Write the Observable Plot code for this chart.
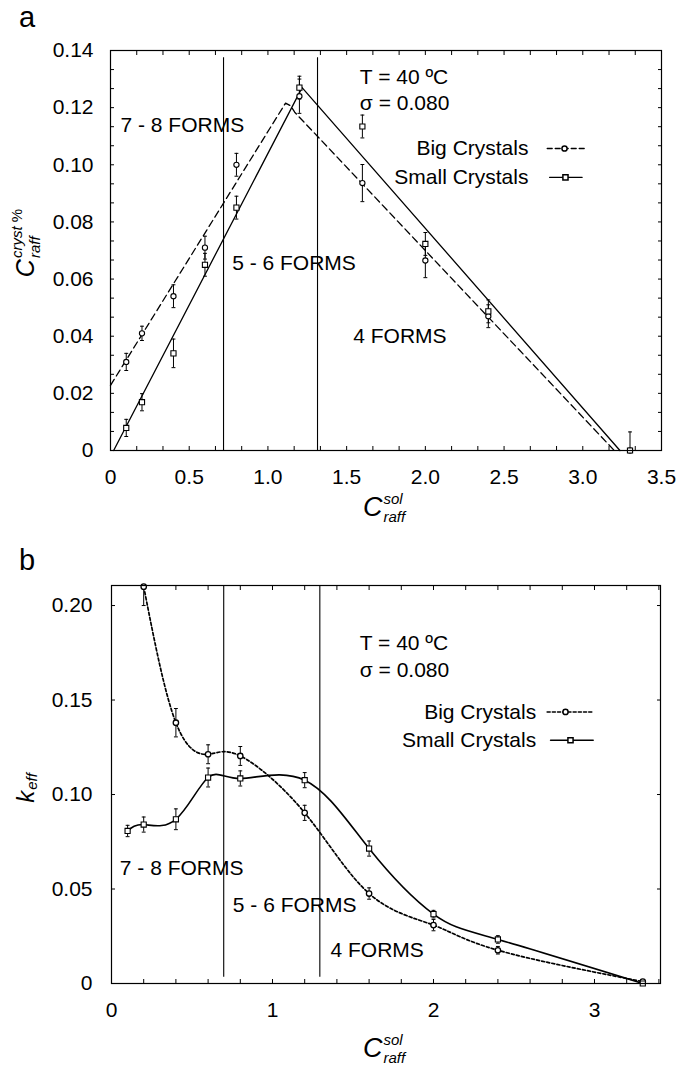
<!DOCTYPE html>
<html>
<head>
<meta charset="utf-8">
<script src="https://cdn.jsdelivr.net/npm/d3@7"></script>
<script src="https://cdn.jsdelivr.net/npm/@observablehq/plot@0.6"></script>
<style>
  html, body { margin: 0; padding: 0; background: #fff; }
  #wrap { position: relative; width: 689px; height: 1066px; overflow: hidden; font-family: 'Liberation Sans', Arial, sans-serif; color: #000; }
  .pnl { position: absolute; left: 0; }
  .tag { position: absolute; font-size: 29px; line-height: 29px; }
  .lab { position: absolute; display: flex; align-items: center; font-style: italic; white-space: nowrap; transform: translate(-50%, -50%); }
  .lab.rot { transform: translate(-50%, -50%) rotate(-90deg); }
  .lab .C { font-size: 27px; line-height: 27px; }
  .lab .ss { display: flex; flex-direction: column; font-size: 15px; line-height: 15px; margin-left: 1px; }
  .lab .ss .sub { margin-top: 3px; }
</style>
</head>
<body>
<div id="wrap">
  <div id="pa" class="pnl" style="top:0"></div>
  <div id="pb" class="pnl" style="top:530px"></div>
  <div class="tag" style="left:19px;top:3px">a</div>
  <div class="tag" style="left:19px;top:546px">b</div>
  <div class="lab" style="left:384px;top:507px"><span class="C">C</span><span class="ss"><span class="sup">sol</span><span class="sub">raff</span></span></div>
  <div class="lab rot" style="left:25px;top:243px"><span class="C" style="font-size:25px">C</span><span class="ss"><span class="sup">cryst <span style="font-style:normal">%</span></span><span class="sub">raff</span></span></div>
  <div class="lab" style="left:384px;top:1048px"><span class="C">C</span><span class="ss"><span class="sup">sol</span><span class="sub">raff</span></span></div>
  <div class="lab rot" style="left:25px;top:788px"><span class="C" style="font-size:24px">k</span><span class="ss" style="font-size:15px"><span class="sup">&nbsp;</span><span class="sub" style="margin-top:-2px">eff</span></span></div>
</div>
<script>
// ---------- Panel a data ----------
const xA = [0.1, 0.2, 0.4, 0.6, 0.8, 1.2, 1.6, 2.0, 2.4, 3.3];
const bigYA = [0.031, 0.041, 0.054, 0.071, 0.100, 0.124, 0.0936, 0.0665, 0.047, 0.0];
const bigErrA = [0.003, 0.0025, 0.004, 0.004, 0.004, 0.006, 0.0065, 0.006, 0.004, 0.0065];
const smallYA = [0.0079, 0.0169, 0.034, 0.065, 0.085, 0.127, 0.1134, 0.0723, 0.0487, 0.0];
const smallErrA = [0.003, 0.003, 0.005, 0.004, 0.004, 0.004, 0.004, 0.004, 0.004, 0.0];
const bigFitXA = [0, 1.112, 1.145, 1.17, 3.2];
const bigFitYA = [0.0228, 0.1216, 0.1206, 0.1184, 0];
const smallFitXA = [0.02, 1.217, 3.236];
const smallFitYA = [0, 0.127, 0];
const boundsA = [0.718, 1.315];
const xMajorA = [0, 0.5, 1.0, 1.5, 2.0, 2.5, 3.0, 3.5];
const yMajorA = [0, 0.02, 0.04, 0.06, 0.08, 0.10, 0.12, 0.14];

// ---------- Panel b data ----------
const bigXB = [0.2, 0.4, 0.6, 0.8, 1.2, 1.6, 2.0, 2.4, 3.3];
const bigYB = [0.21, 0.138, 0.1213, 0.1204, 0.0903, 0.0476, 0.0309, 0.0176, 0.001];
const bigErrB = [0.01, 0.0075, 0.005, 0.005, 0.004, 0.003, 0.003, 0.002, 0.0];
const smallXB = [0.1, 0.2, 0.4, 0.6, 0.8, 1.2, 1.6, 2.0, 2.4, 3.3];
const smallYB = [0.0807, 0.0841, 0.0869, 0.109, 0.1085, 0.1076, 0.0714, 0.0367, 0.0233, 0.0];
const smallErrB = [0.003, 0.004, 0.0055, 0.005, 0.004, 0.004, 0.004, 0.002, 0.002, 0.0];
const boundsB = [0.697, 1.294];
const xMajorB = [0, 1, 2, 3];
const yMajorB = [0, 0.05, 0.10, 0.15, 0.20];

// text
const formLabels = ["7 - 8 FORMS", "5 - 6 FORMS", "4 FORMS"];
const condLabels = ["T = 40 ºC", "σ = 0.080"];
const seriesNames = ["Big Crystals", "Small Crystals"];

// ---------- helpers ----------
const pts = (xs, ys, es) => xs.map((x, i) => ({x, y: ys[i], e: es ? es[i] : 0}));
const capSymbol = { draw(ctx, size) { const w = Math.sqrt(size) / 2; ctx.moveTo(-w, 0); ctx.lineTo(w, 0); } };
const font = "'Liberation Sans', Arial, sans-serif";
const fs = 21;

function frameTicks(xMinor, yMinor) {
  const blank = () => "";
  return [
    Plot.axisX(xMinor, {anchor: "bottom", tickSize: -4, tickFormat: blank, label: null}),
    Plot.axisX(xMinor, {anchor: "top", tickSize: -4, tickFormat: blank, label: null}),
    Plot.axisY(yMinor, {anchor: "left", tickSize: -4, tickFormat: blank, label: null}),
    Plot.axisY(yMinor, {anchor: "right", tickSize: -4, tickFormat: blank, label: null})
  ];
}
function errorMarks(data) {
  return [
    Plot.ruleX(data.filter(d => d.e > 0), {x: "x", y1: d => d.y - d.e, y2: d => d.y + d.e, stroke: "black", strokeWidth: 1, clip: true}),
    Plot.dot(data.filter(d => d.e > 0), {x: "x", y: d => d.y + d.e, symbol: capSymbol, r: 2.2, stroke: "black", strokeWidth: 1, clip: true}),
    Plot.dot(data.filter(d => d.e > 0), {x: "x", y: d => d.y - d.e, symbol: capSymbol, r: 2.2, stroke: "black", strokeWidth: 1, clip: true})
  ];
}

// ---------- Panel a ----------
{
  const big = pts(xA, bigYA, bigErrA);
  const small = pts(xA, smallYA, smallErrA);
  const bigFit = pts(bigFitXA, bigFitYA);
  const smallFit = pts(smallFitXA, smallFitYA);
  const xMinor = d3.range(0, 3.5 + 1e-9, 0.5 / 3);
  const yMinor = d3.range(0, 0.14 + 1e-9, 0.02 / 3);
  const fmtY = d => d === 0 ? "0" : d.toFixed(2);
  const fmtX = d => d === 0 ? "0" : d.toFixed(1);
  const chart = Plot.plot({
    width: 689, height: 530,
    marginLeft: 110, marginRight: 28, marginTop: 50, marginBottom: 80,
    style: {fontFamily: font, fontSize: fs + "px", color: "black", background: "white", overflow: "visible"},
    x: {domain: [0, 3.5]},
    y: {domain: [0, 0.14]},
    marks: [
      Plot.axisX(xMajorA, {anchor: "bottom", tickSize: 0, tickPadding: 19, tickFormat: fmtX, label: null, fontSize: fs}),
      Plot.axisY(yMajorA, {anchor: "left", tickSize: 0, tickPadding: 17, tickFormat: fmtY, label: null, fontSize: fs}),
      ...frameTicks(xMinor, yMinor),
      Plot.ruleX(boundsA, {x: d => d, y1: 0, y2: 0.1375, stroke: "black", strokeWidth: 1.1}),
      Plot.line(bigFit, {x: "x", y: "y", stroke: "black", strokeWidth: 1.3, strokeDasharray: "7,4"}),
      Plot.line(smallFit, {x: "x", y: "y", stroke: "black", strokeWidth: 1.3}),
      ...errorMarks(big),
      ...errorMarks(small),
      Plot.dot(big, {x: "x", y: "y", r: 2.6, fill: "white", stroke: "black", strokeWidth: 1.1}),
      Plot.dot(small, {x: "x", y: "y", symbol: "square", r: 2.9, fill: "white", stroke: "black", strokeWidth: 1.1}),
      // region & condition labels
      Plot.text([formLabels[0]], {x: 0.0635, y: 0.1138, text: d => d, textAnchor: "start", fontSize: fs}),
      Plot.text([formLabels[1]], {x: 0.773, y: 0.0655, text: d => d, textAnchor: "start", fontSize: fs}),
      Plot.text([formLabels[2]], {x: 1.542, y: 0.0399, text: d => d, textAnchor: "start", fontSize: fs}),
      Plot.text([condLabels[0]], {x: 1.584, y: 0.1306, text: d => d, textAnchor: "start", fontSize: fs}),
      Plot.text([condLabels[1]], {x: 1.584, y: 0.1215, text: d => d, textAnchor: "start", fontSize: fs}),
      // legend
      Plot.text([seriesNames[0]], {x: 2.655, y: 0.1057, text: d => d, textAnchor: "end", fontSize: fs}),
      Plot.text([seriesNames[1]], {x: 2.655, y: 0.0956, text: d => d, textAnchor: "end", fontSize: fs}),
      Plot.line([{x: 2.774, y: 0.1057}, {x: 3.017, y: 0.1057}], {x: "x", y: "y", stroke: "black", strokeWidth: 1.3, strokeDasharray: "5,3"}),
      Plot.line([{x: 2.789, y: 0.0956}, {x: 2.996, y: 0.0956}], {x: "x", y: "y", stroke: "black", strokeWidth: 1.3}),
      Plot.dot([{x: 2.884, y: 0.1057}], {x: "x", y: "y", r: 2.6, fill: "white", stroke: "black"}),
      Plot.dot([{x: 2.89, y: 0.0956}], {x: "x", y: "y", symbol: "square", r: 2.9, fill: "white", stroke: "black"}),
      Plot.frame({stroke: "black", strokeWidth: 1.2})
    ]
  });
  document.getElementById("pa").append(chart);
}

// ---------- Panel b ----------
{
  const big = pts(bigXB, bigYB, bigErrB);
  const small = pts(smallXB, smallYB, smallErrB);
  const xMinor = d3.range(0, 3.41, 0.2);
  const fmtY = d => d === 0 ? "0" : d.toFixed(2);
  const chart = Plot.plot({
    width: 689, height: 536,
    marginLeft: 111, marginRight: 29, marginTop: 55, marginBottom: 83,
    style: {fontFamily: font, fontSize: fs + "px", color: "black", background: "white", overflow: "visible"},
    x: {domain: [0, 3.41]},
    y: {domain: [0, 0.2106]},
    marks: [
      Plot.axisX(xMajorB, {anchor: "bottom", tickSize: 0, tickPadding: 19, tickFormat: d => String(d), label: null, fontSize: fs}),
      Plot.axisY(yMajorB, {anchor: "left", tickSize: 0, tickPadding: 19, tickFormat: fmtY, label: null, fontSize: fs}),
      ...frameTicks(xMinor, yMajorB),
      Plot.ruleX(boundsB, {x: d => d, y1: 0.0033, y2: 0.2106, stroke: "black", strokeWidth: 1.1}),
      Plot.line(big, {x: "x", y: "y", curve: "natural", stroke: "black", strokeWidth: 1.7, strokeDasharray: "3,2.2", clip: true}),
      Plot.line(small, {x: "x", y: "y", curve: "natural", stroke: "black", strokeWidth: 1.6, clip: true}),
      ...errorMarks(big),
      ...errorMarks(small),
      Plot.dot(big, {x: "x", y: "y", r: 2.7, fill: "white", stroke: "black", strokeWidth: 1.3}),
      Plot.dot(small, {x: "x", y: "y", symbol: "square", r: 2.9, fill: "white", stroke: "black", strokeWidth: 1.1}),
      Plot.text([formLabels[0]], {x: 0.0516, y: 0.0608, text: d => d, textAnchor: "start", fontSize: fs}),
      Plot.text([formLabels[1]], {x: 0.7534, y: 0.0414, text: d => d, textAnchor: "start", fontSize: fs}),
      Plot.text([formLabels[2]], {x: 1.36, y: 0.0176, text: d => d, textAnchor: "start", fontSize: fs}),
      Plot.text([condLabels[0]], {x: 1.542, y: 0.180, text: d => d, textAnchor: "start", fontSize: fs}),
      Plot.text([condLabels[1]], {x: 1.542, y: 0.1658, text: d => d, textAnchor: "start", fontSize: fs}),
      Plot.text([seriesNames[0]], {x: 2.638, y: 0.1437, text: d => d, textAnchor: "end", fontSize: fs}),
      Plot.text([seriesNames[1]], {x: 2.638, y: 0.1287, text: d => d, textAnchor: "end", fontSize: fs}),
      Plot.line([{x: 2.706, y: 0.1437}, {x: 2.994, y: 0.1437}], {x: "x", y: "y", stroke: "black", strokeWidth: 1.6, strokeDasharray: "3,2.2"}),
      Plot.line([{x: 2.727, y: 0.1287}, {x: 2.992, y: 0.1287}], {x: "x", y: "y", stroke: "black", strokeWidth: 1.5}),
      Plot.dot([{x: 2.82, y: 0.1437}], {x: "x", y: "y", r: 2.6, fill: "white", stroke: "black"}),
      Plot.dot([{x: 2.851, y: 0.1287}], {x: "x", y: "y", symbol: "square", r: 2.9, fill: "white", stroke: "black"}),
      Plot.frame({stroke: "black", strokeWidth: 1.2})
    ]
  });
  document.getElementById("pb").append(chart);
}
</script>
</body>
</html>
